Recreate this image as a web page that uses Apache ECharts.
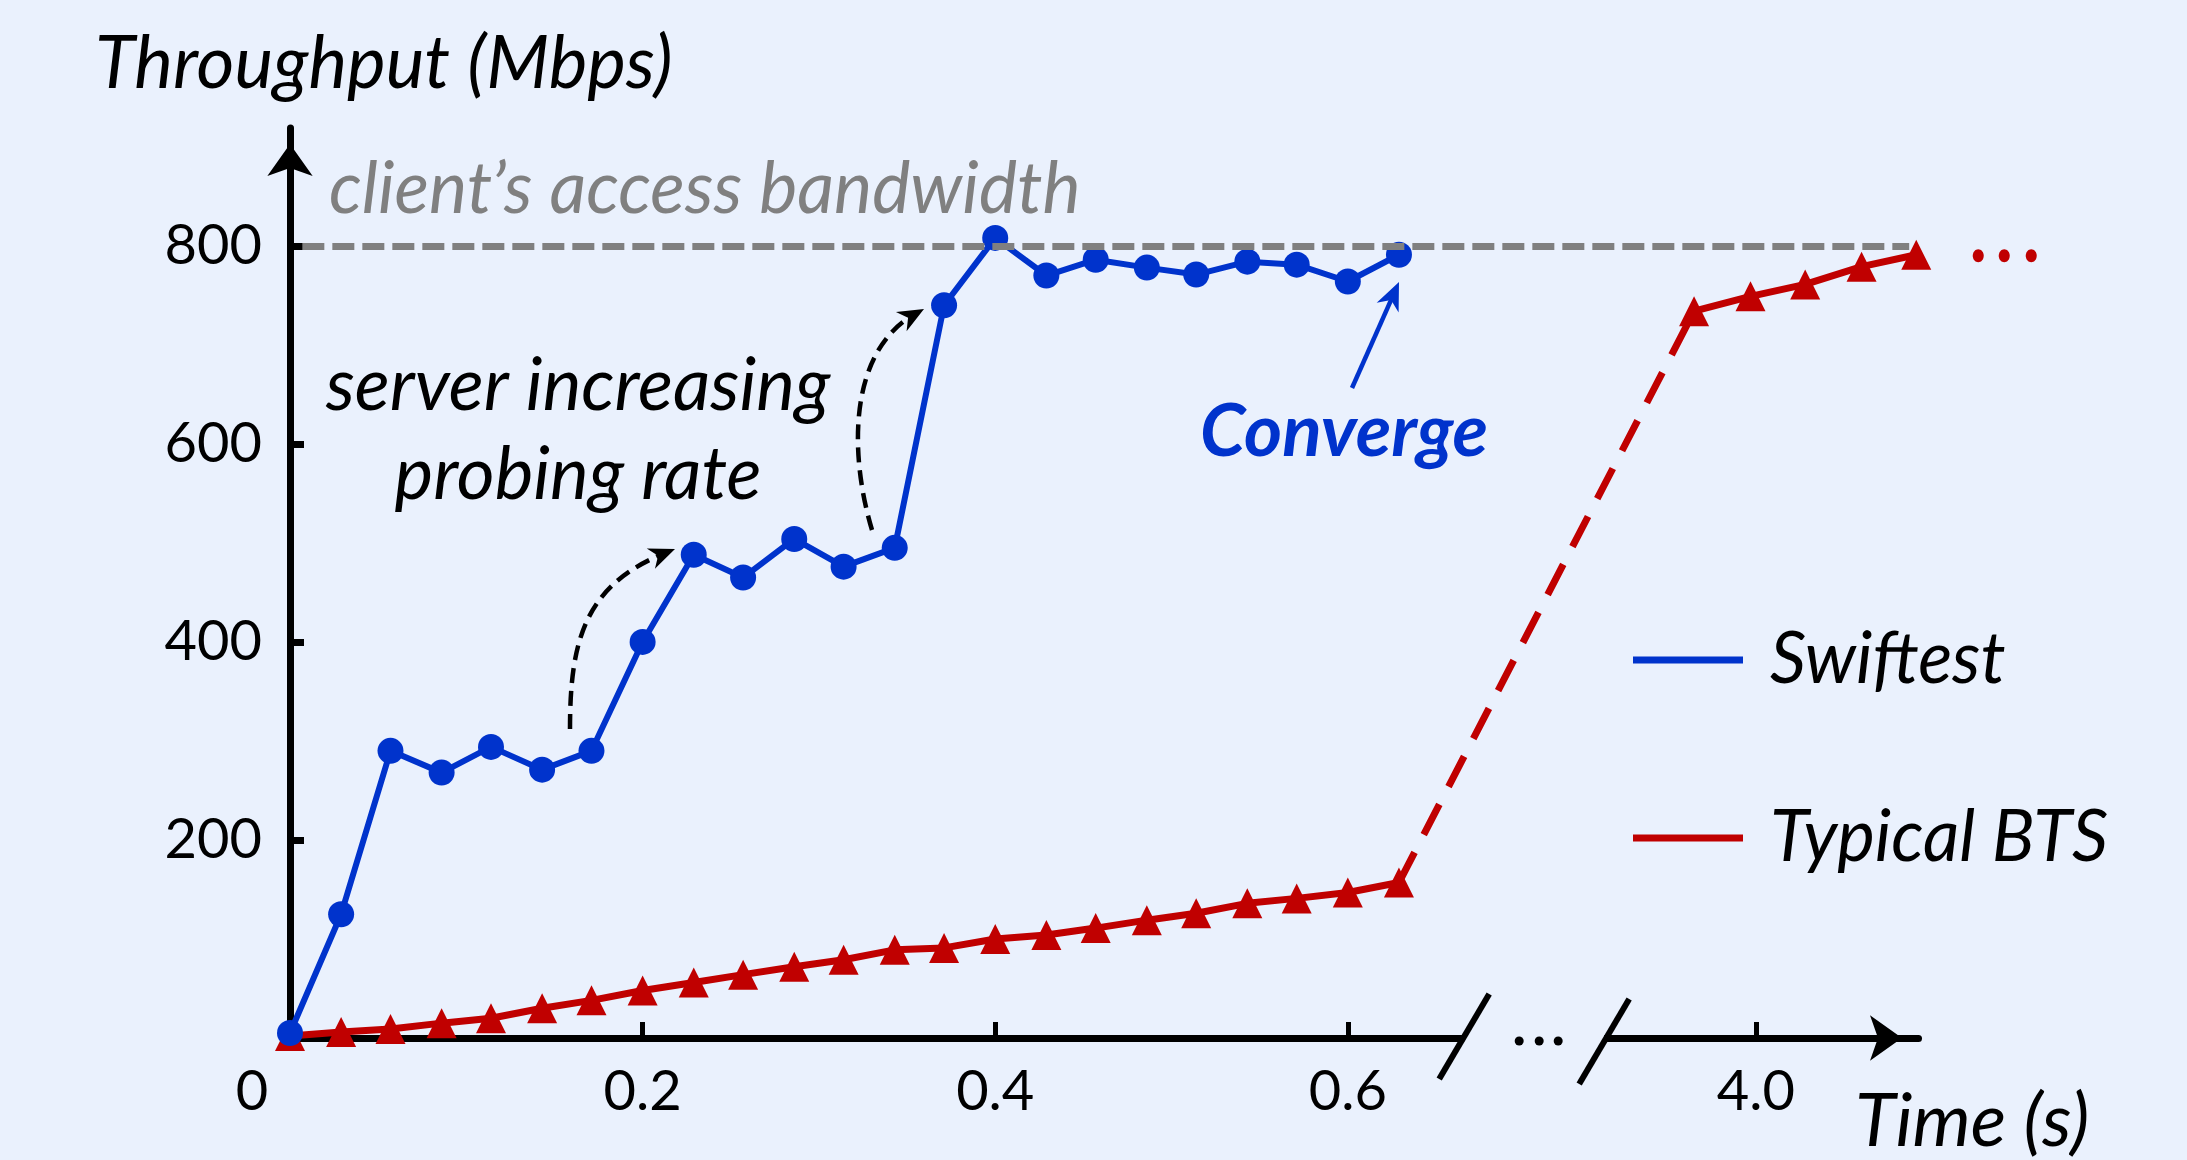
<!DOCTYPE html>
<html>
<head>
<meta charset="utf-8">
<script src="https://cdn.jsdelivr.net/npm/echarts@6/dist/echarts.min.js"></script>
<style>
  html, body { margin: 0; padding: 0; background: #EAF1FD; }
  #main { width: 2187px; height: 1160px; }
</style>
</head>
<body>
<div id="main"></div>
<script>
// sample times (s) before the axis break, shared by both series
const timeEarly = [0, 0.029, 0.057, 0.086, 0.114, 0.143, 0.171, 0.2, 0.229, 0.257, 0.286, 0.314,
  0.343, 0.371, 0.4, 0.429, 0.457, 0.486, 0.514, 0.543, 0.571, 0.6, 0.629];
// throughput (Mbps)
const swiftRate = [5, 125, 290, 268, 294, 271, 290, 400, 488, 465, 504, 476,
  495, 740, 808, 770, 786, 778, 771, 784, 781, 764, 791];
const btsRate = [2, 6, 9, 15, 20, 30, 38, 48, 56, 64, 72, 79,
  89, 91, 100, 104, 111, 119, 126, 136, 141, 147, 157];
// samples after the break
const timeLate = [3.965, 3.997, 4.028, 4.06, 4.091];
const btsLateRate = [734, 749, 761, 779, 791];

const accessBandwidth = 800;
const yTicks = [200, 400, 600, 800];
const xTicks = [0.2, 0.4, 0.6, 4.0];
const axisBreak = { start: 0.666, end: 3.914 };

const FONT = 'Lato';
const BLUE = '#0033CC';
const RED = '#C00000';
const GRAY = '#808080';
const BG = '#EAF1FD';

const pairs = (xs, ys) => xs.map((x, i) => [x, ys[i]]);
const last = timeEarly.length - 1;

const chart = echarts.init(document.getElementById('main'));

chart.setOption({
  backgroundColor: BG,
  animation: false,
  grid: { left: 290, right: 269, top: 128, bottom: 122 },
  legend: {
    orient: 'vertical',
    left: 1628,
    top: 615,
    itemWidth: 110,
    itemHeight: 7,
    itemGap: 98,
    selectedMode: false,
    textStyle: {
      fontFamily: FONT, fontStyle: 'italic', fontSize: 71, color: '#000',
      lineHeight: 80, padding: [0, 0, 0, 22]
    },
    data: [
      { name: 'Swiftest', icon: 'rect', itemStyle: { color: BLUE } },
      { name: 'Typical BTS', icon: 'rect', itemStyle: { color: RED } }
    ]
  },
  xAxis: {
    type: 'value',
    min: 0,
    max: 4.092,
    breaks: [{ start: axisBreak.start, end: axisBreak.end, gap: 0.0794 }],
    breakArea: { show: false },
    axisLine: {
      symbol: ['none', 'arrow'], symbolSize: [34, 32], symbolOffset: [0, -16],
      lineStyle: { color: '#000', width: 7 }
    },
    axisTick: { inside: true, length: 16, customValues: xTicks, lineStyle: { color: '#000', width: 5 } },
    axisLabel: {
      customValues: xTicks, formatter: v => v.toFixed(1),
      fontFamily: FONT, fontSize: 56, color: '#000', margin: 26
    },
    splitLine: { show: false }
  },
  yAxis: {
    type: 'value',
    min: 0,
    max: 919,
    axisLine: {
      show: true, symbol: ['none', 'arrow'], symbolSize: [34, 32], symbolOffset: [0, -16],
      lineStyle: { color: '#000', width: 7 }
    },
    axisTick: { show: true, inside: true, length: 14, customValues: yTicks, lineStyle: { color: '#000', width: 7 } },
    axisLabel: {
      customValues: yTicks, fontFamily: FONT, fontSize: 56, color: '#000', margin: 28
    },
    splitLine: { show: false }
  },
  series: [
    {
      name: 'Typical BTS',
      type: 'line',
      data: pairs(timeEarly, btsRate),
      symbol: 'triangle', symbolSize: 30, showSymbol: true,
      lineStyle: { color: RED, width: 7 },
      itemStyle: { color: RED },
      silent: true, z: 2
    },
    {
      name: 'Typical BTS',
      type: 'line',
      data: [[timeEarly[last], btsRate[last]], [timeLate[0], btsLateRate[0]]],
      symbol: 'none',
      lineStyle: { color: RED, width: 7, type: [34, 20] },
      silent: true, z: 2
    },
    {
      name: 'Typical BTS',
      type: 'line',
      data: pairs(timeLate, btsLateRate),
      symbol: 'triangle', symbolSize: 30, showSymbol: true,
      lineStyle: { color: RED, width: 7 },
      itemStyle: { color: RED },
      clip: false, silent: true, z: 2
    },
    {
      name: 'Swiftest',
      type: 'line',
      data: pairs(timeEarly, swiftRate),
      symbol: 'circle', symbolSize: 26, showSymbol: true,
      lineStyle: { color: BLUE, width: 6 },
      itemStyle: { color: BLUE },
      silent: true, z: 3,
      markLine: {
        silent: true, symbol: 'none', label: { show: false },
        lineStyle: { color: GRAY, width: 7, type: [22, 8] },
        data: [[{ xAxis: 0.007, yAxis: accessBandwidth }, { xAxis: 4.087, yAxis: accessBandwidth }]]
      }
    }
  ]
});

// annotations: arrows, texts and the axis-break marks
function arrowHead(tx, ty, ang, len, wid, color, z) {
  const c = Math.cos(ang), s = Math.sin(ang);
  const bx = tx - len * c, by = ty - len * s;
  const nx = tx - len * 0.7 * c, ny = ty - len * 0.7 * s;
  return {
    type: 'polygon', z: z || 60,
    shape: { points: [[tx, ty], [bx - wid / 2 * s, by + wid / 2 * c], [nx, ny], [bx + wid / 2 * s, by - wid / 2 * c]] },
    style: { fill: color }
  };
}
function curvedArrow(p0, c1, c2, p3) {
  const ang = Math.atan2(p3[1] - c2[1], p3[0] - c2[0]);
  return [
    {
      type: 'bezierCurve', z: 60,
      shape: { x1: p0[0], y1: p0[1], cpx1: c1[0], cpy1: c1[1], cpx2: c2[0], cpy2: c2[1],
        x2: p3[0] - 10 * Math.cos(ang), y2: p3[1] - 10 * Math.sin(ang) },
      style: { stroke: '#000', lineWidth: 4.5, lineDash: [15, 8], fill: null }
    },
    arrowHead(p3[0], p3[1], ang, 26, 22, '#000')
  ];
}
function label(text, x, y, size, opts) {
  return {
    type: 'text', z: 60, x: x, y: y,
    style: Object.assign({
      text: text, fontFamily: FONT, fontSize: size, fontStyle: 'italic', fill: '#000',
      align: 'left', verticalAlign: 'middle'
    }, opts || {})
  };
}

const bx1 = chart.convertToPixel({ xAxisIndex: 0 }, axisBreak.start);
const bx2 = chart.convertToPixel({ xAxisIndex: 0 }, axisBreak.end);
const ay = chart.convertToPixel({ yAxisIndex: 0 }, 0);
const tail = chart.convertToPixel({ xAxisIndex: 0, yAxisIndex: 0 }, [timeLate[timeLate.length - 1], btsLateRate[btsLateRate.length - 1]]);
const mid = (bx1 + bx2) / 2 + 5;

const cvAng = Math.atan2(282 - 388, 1399 - 1352);
const graphics = [
  label('Throughput (Mbps)', 95, 64, 73),
  label('client\u2019s access bandwidth', 329, 190, 72, { fill: GRAY }),
  label('server increasing', 578, 386, 73, { align: 'center' }),
  label('probing rate', 578, 475, 73, { align: 'center' }),
  label('Converge', 1200, 432, 73, { fill: BLUE, fontWeight: 'bold' }),
  label('Time (s)', 1855, 1122, 74),
  label('0', 252, 1092, 56, { fontStyle: 'normal', align: 'center' }),
  {
    type: 'line', z: 60,
    shape: { x1: 1352, y1: 388, x2: 1399 - 14 * Math.cos(cvAng), y2: 282 - 14 * Math.sin(cvAng) },
    style: { stroke: BLUE, lineWidth: 4.5 }
  },
  arrowHead(1399, 282, cvAng, 28, 24, BLUE),
  // axis break
  { type: 'rect', z: 50, shape: { x: bx1, y: ay - 7, width: bx2 - bx1, height: 14 }, style: { fill: BG } },
  { type: 'line', z: 51, shape: { x1: bx1 + 25, y1: ay - 44, x2: bx1 - 25, y2: ay + 41 }, style: { stroke: '#000', lineWidth: 6 } },
  { type: 'line', z: 51, shape: { x1: bx2 + 25, y1: ay - 39, x2: bx2 - 25, y2: ay + 46 }, style: { stroke: '#000', lineWidth: 6 } }
];
[-20, 0, 19].forEach(d => graphics.push({ type: 'circle', z: 51, shape: { cx: mid + d, cy: ay + 3, r: 4.5 }, style: { fill: '#000' } }));
[62, 88, 115].forEach(d => graphics.push({ type: 'ellipse', z: 51, shape: { cx: tail[0] + d, cy: tail[1] + 1, rx: 5.5, ry: 6.5 }, style: { fill: RED } }));
curvedArrow([570, 729], [570, 640], [585, 585], [675, 549]).forEach(g => graphics.push(g));
curvedArrow([872, 530], [848, 450], [850, 350], [924, 309]).forEach(g => graphics.push(g));

chart.setOption({ graphic: { elements: graphics } });
</script>
</body>
</html>
